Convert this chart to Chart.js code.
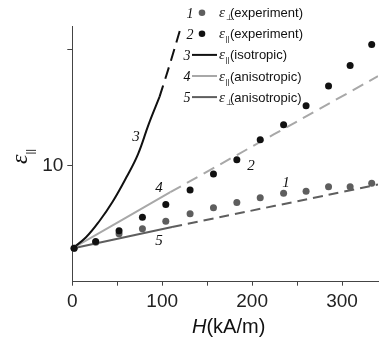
<!DOCTYPE html>
<html>
<head>
<meta charset="utf-8">
<script src="https://cdn.jsdelivr.net/npm/chart.js@4"></script>
<style>
  body { margin: 0; background: #fff; }
  canvas { display: block; }
</style>
</head>
<body>
<canvas id="chart" width="382" height="341"></canvas>
<script>
// experimental points (H in kA/m)
const fieldH = [2, 26, 52, 78, 104, 131, 157, 183, 209, 235, 260, 285, 309, 333];
const epsPerpExp = [6.44, 6.70, 7.06, 7.28, 7.60, 7.92, 8.18, 8.41, 8.61, 8.81, 8.89, 9.09, 9.09, 9.24];
const epsParExp = [6.44, 6.73, 7.19, 7.77, 8.32, 8.95, 9.63, 10.25, 11.11, 11.75, 12.57, 13.42, 14.30, 15.20];

// curve 3: eps_par isotropic (solid part, then dashed part)
const isoH = [0, 15, 30, 45, 60, 73, 85, 97];
const isoEps = [6.43, 6.90, 7.60, 8.45, 9.48, 10.48, 11.78, 12.95];
const isoDashH = [97, 103, 110, 120];
const isoDashEps = [12.95, 13.68, 14.55, 15.85];

// curve 4: eps_par anisotropic
const aniParH = [0, 109];
const aniParEps = [6.43, 8.85];
const aniParDashH = [109, 340];
const aniParDashEps = [8.85, 13.84];

// curve 5: eps_perp anisotropic
const aniPerpH = [0, 111];
const aniPerpEps = [6.43, 7.35];
const aniPerpDashH = [111, 340];
const aniPerpDashEps = [7.35, 9.18];

// axes
const xTickValues = [0, 50, 100, 150, 200, 250, 300];
const xTickLabels = [0, 100, 200, 300];
const yTickValues = [10, 15];
const yTickLabels = [10];

// legend
const legendNums = ["1", "2", "3", "4", "5"];
const legendSubs = ["⊥", "||", "||", "||", "⊥"];
const legendText = ["(experiment)", "(experiment)", "(isotropic)", "(anisotropic)", "(anisotropic)"];

const BLACK = "#111";
const DARK = "#5e5e5e";
const LIGHT = "#a8a8a8";

function pts(xs, ys) {
  return xs.map((x, i) => ({ x: x, y: ys[i] }));
}

function lineSet(xs, ys, color, dash) {
  return {
    data: pts(xs, ys),
    showLine: true,
    borderColor: color,
    borderWidth: 2,
    borderDash: dash || [],
    pointRadius: 0,
    tension: 0.4,
    fill: false,
  };
}

const overlay = {
  id: "overlay",
  afterDraw(chart) {
    const ctx = chart.ctx;
    ctx.save();
    ctx.fillStyle = "#111";

    // legend
    const markers = [
      { type: "dot", color: DARK },
      { type: "dot", color: BLACK },
      { type: "line", color: BLACK },
      { type: "line", color: LIGHT },
      { type: "line", color: DARK },
    ];
    legendNums.forEach((num, i) => {
      const y = 12.7 + i * 21.1;
      const m = markers[i];
      ctx.fillStyle = "#111";
      ctx.font = "italic 14px 'Liberation Serif'";
      ctx.textAlign = "center";
      ctx.textBaseline = "alphabetic";
      ctx.fillText(num, m.type === "dot" ? 190 : 187, y + 5);
      if (m.type === "dot") {
        ctx.fillStyle = m.color;
        ctx.beginPath();
        ctx.arc(202, y, 3.3, 0, Math.PI * 2);
        ctx.fill();
      } else {
        ctx.strokeStyle = m.color;
        ctx.lineWidth = 2;
        ctx.beginPath();
        ctx.moveTo(192, y);
        ctx.lineTo(217, y);
        ctx.stroke();
      }
      ctx.fillStyle = "#111";
      ctx.textAlign = "left";
      ctx.font = "italic 15px 'Liberation Serif'";
      ctx.fillText("ε", 219, y + 4.5);
      ctx.font = "8px 'Liberation Sans'";
      ctx.fillText(legendSubs[i], 225.5, y + 7.5);
      ctx.font = "13px 'Liberation Sans'";
      ctx.fillText(legendText[i], 230, y + 4.5);
    });

    // curve labels
    ctx.font = "italic 15px 'Liberation Serif'";
    ctx.textAlign = "center";
    ctx.textBaseline = "middle";
    [["3", 136, 137], ["4", 159, 188], ["2", 251, 166], ["5", 159, 241], ["1", 286, 183]].forEach(
      (l) => ctx.fillText(l[0], l[1], l[2])
    );

    // x axis title
    ctx.textAlign = "left";
    ctx.textBaseline = "alphabetic";
    ctx.font = "italic 20px 'Liberation Sans'";
    ctx.fillText("H", 192, 333);
    const hw = ctx.measureText("H").width;
    ctx.font = "20px 'Liberation Sans'";
    ctx.fillText("(kA/m)", 192 + hw, 333);

    // y axis title
    ctx.translate(27, 164);
    ctx.rotate(-Math.PI / 2);
    ctx.font = "italic 24px 'Liberation Serif'";
    ctx.fillText("ε", 0, 0);
    const ew = ctx.measureText("ε").width;
    ctx.font = "11px 'Liberation Sans'";
    ctx.fillText("||", ew, 7);
    ctx.restore();
  },
};

new Chart(document.getElementById("chart"), {
  type: "scatter",
  data: {
    datasets: [
      {
        data: pts(fieldH, epsParExp),
        backgroundColor: BLACK,
        borderWidth: 0,
        pointRadius: 3.5,
        clip: false,
      },
      {
        data: pts(fieldH, epsPerpExp),
        backgroundColor: DARK,
        borderWidth: 0,
        pointRadius: 3.5,
        clip: false,
      },
      lineSet(isoH, isoEps, BLACK),
      lineSet(isoDashH, isoDashEps, BLACK, [12, 7]),
      lineSet(aniParH, aniParEps, LIGHT),
      lineSet(aniParDashH, aniParDashEps, LIGHT, [12, 7]),
      lineSet(aniPerpH, aniPerpEps, DARK),
      lineSet(aniPerpDashH, aniPerpDashEps, DARK, [10, 6]),
    ],
  },
  options: {
    responsive: false,
    devicePixelRatio: 1,
    animation: false,
    layout: { padding: { top: 26, right: 0, left: 0, bottom: 0 } },
    plugins: {
      legend: { display: false },
      tooltip: { enabled: false },
    },
    scales: {
      x: {
        type: "linear",
        min: 0,
        max: 340,
        afterBuildTicks: (s) => {
          s.ticks = xTickValues.map((v) => ({ value: v }));
        },
        afterFit: (s) => {
          s.height = 59.3;
        },
        ticks: {
          autoSkip: false,
          maxRotation: 0,
          padding: 5,
          color: "#222",
          font: { family: "'Liberation Sans'", size: 19 },
          callback: (v) => (xTickLabels.includes(v) ? String(v) : ""),
        },
        grid: { drawOnChartArea: false, tickLength: 4, color: "#444" },
        border: { color: "#444", width: 1 },
      },
      y: {
        type: "linear",
        min: 5,
        max: 16,
        afterBuildTicks: (s) => {
          s.ticks = yTickValues.map((v) => ({ value: v }));
        },
        afterFit: (s) => {
          s.width = 72.3;
        },
        ticks: {
          padding: 4,
          color: "#222",
          font: { family: "'Liberation Sans'", size: 19 },
          callback: (v) => (yTickLabels.includes(v) ? String(v) : ""),
        },
        grid: { drawOnChartArea: false, tickLength: 5, color: "#444" },
        border: { color: "#444", width: 1 },
      },
    },
  },
  plugins: [overlay],
});
</script>
</body>
</html>
